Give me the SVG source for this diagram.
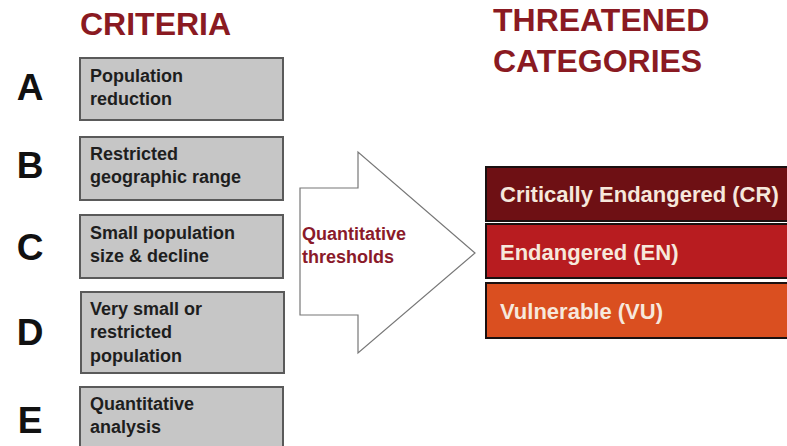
<svg xmlns="http://www.w3.org/2000/svg" width="787" height="446" viewBox="0 0 787 446">
<style>
.title{font-family:"Liberation Sans",Arial,sans-serif;font-weight:bold;font-size:32px;fill:#8a1a22}
.letter{font-family:"Liberation Sans",Arial,sans-serif;font-weight:bold;font-size:37px;fill:#111;text-anchor:middle}
.box{fill:#c6c6c6;stroke:#5a5a5a;stroke-width:2}
.bt{font-family:"Liberation Sans",Arial,sans-serif;font-weight:bold;font-size:18px;fill:#1e1e1e}
.cat{stroke:#1a1010;stroke-width:2}
.ct{font-family:"Liberation Sans",Arial,sans-serif;font-weight:bold;font-size:22px;fill:#f6e8dc}
.arr{fill:#fff;stroke:#777;stroke-width:1.2}
.at{font-family:"Liberation Sans",Arial,sans-serif;font-weight:bold;font-size:18px;fill:#8a1a2a}
</style>
<rect width="787" height="446" fill="#fff"/>
<text class="title" x="80" y="35">CRITERIA</text>
<text class="title" x="493" y="31">THREATENED</text>
<text class="title" x="493" y="72">CATEGORIES</text>

<g id="crit-A"><text class="letter" x="30" y="100">A</text><rect class="box" x="80" y="58" width="203" height="62"/><text class="bt" x="90" y="82">Population</text><text class="bt" x="90" y="105">reduction</text></g>
<g id="crit-B"><text class="letter" x="30" y="178">B</text><rect class="box" x="80" y="137" width="203" height="63"/><text class="bt" x="90" y="160">Restricted</text><text class="bt" x="90" y="183">geographic range</text></g>
<g id="crit-C"><text class="letter" x="30" y="260">C</text><rect class="box" x="80" y="215" width="203" height="63"/><text class="bt" x="90" y="239">Small population</text><text class="bt" x="90" y="262">size &amp; decline</text></g>
<g id="crit-D"><text class="letter" x="30" y="345">D</text><rect class="box" x="81" y="292" width="203" height="81"/><text class="bt" x="90" y="315">Very small or</text><text class="bt" x="90" y="338">restricted</text><text class="bt" x="90" y="362">population</text></g>
<g id="crit-E"><text class="letter" x="30" y="433">E</text><rect class="box" x="80" y="387" width="203" height="70"/><text class="bt" x="90" y="410">Quantitative</text><text class="bt" x="90" y="433">analysis</text></g>

<g id="connectors">
<path class="arr" d="M300,188 H358 V152 L475,253 L358,353 V315 H300 Z"/>
</g>
<g id="thresholds"><text class="at" x="302" y="240">Quantitative</text><text class="at" x="302" y="263">thresholds</text></g>

<g id="cat-CR"><rect class="cat" x="486" y="167" width="310" height="54" fill="#6e1014"/><text class="ct" x="500" y="202">Critically Endangered (CR)</text></g>
<g id="cat-EN"><rect class="cat" x="486" y="224" width="310" height="54" fill="#b81c20"/><text class="ct" x="500" y="260">Endangered (EN)</text></g>
<g id="cat-VU"><rect class="cat" x="486" y="283" width="310" height="55" fill="#da4f20"/><text class="ct" x="500" y="319">Vulnerable (VU)</text></g>
</svg>
